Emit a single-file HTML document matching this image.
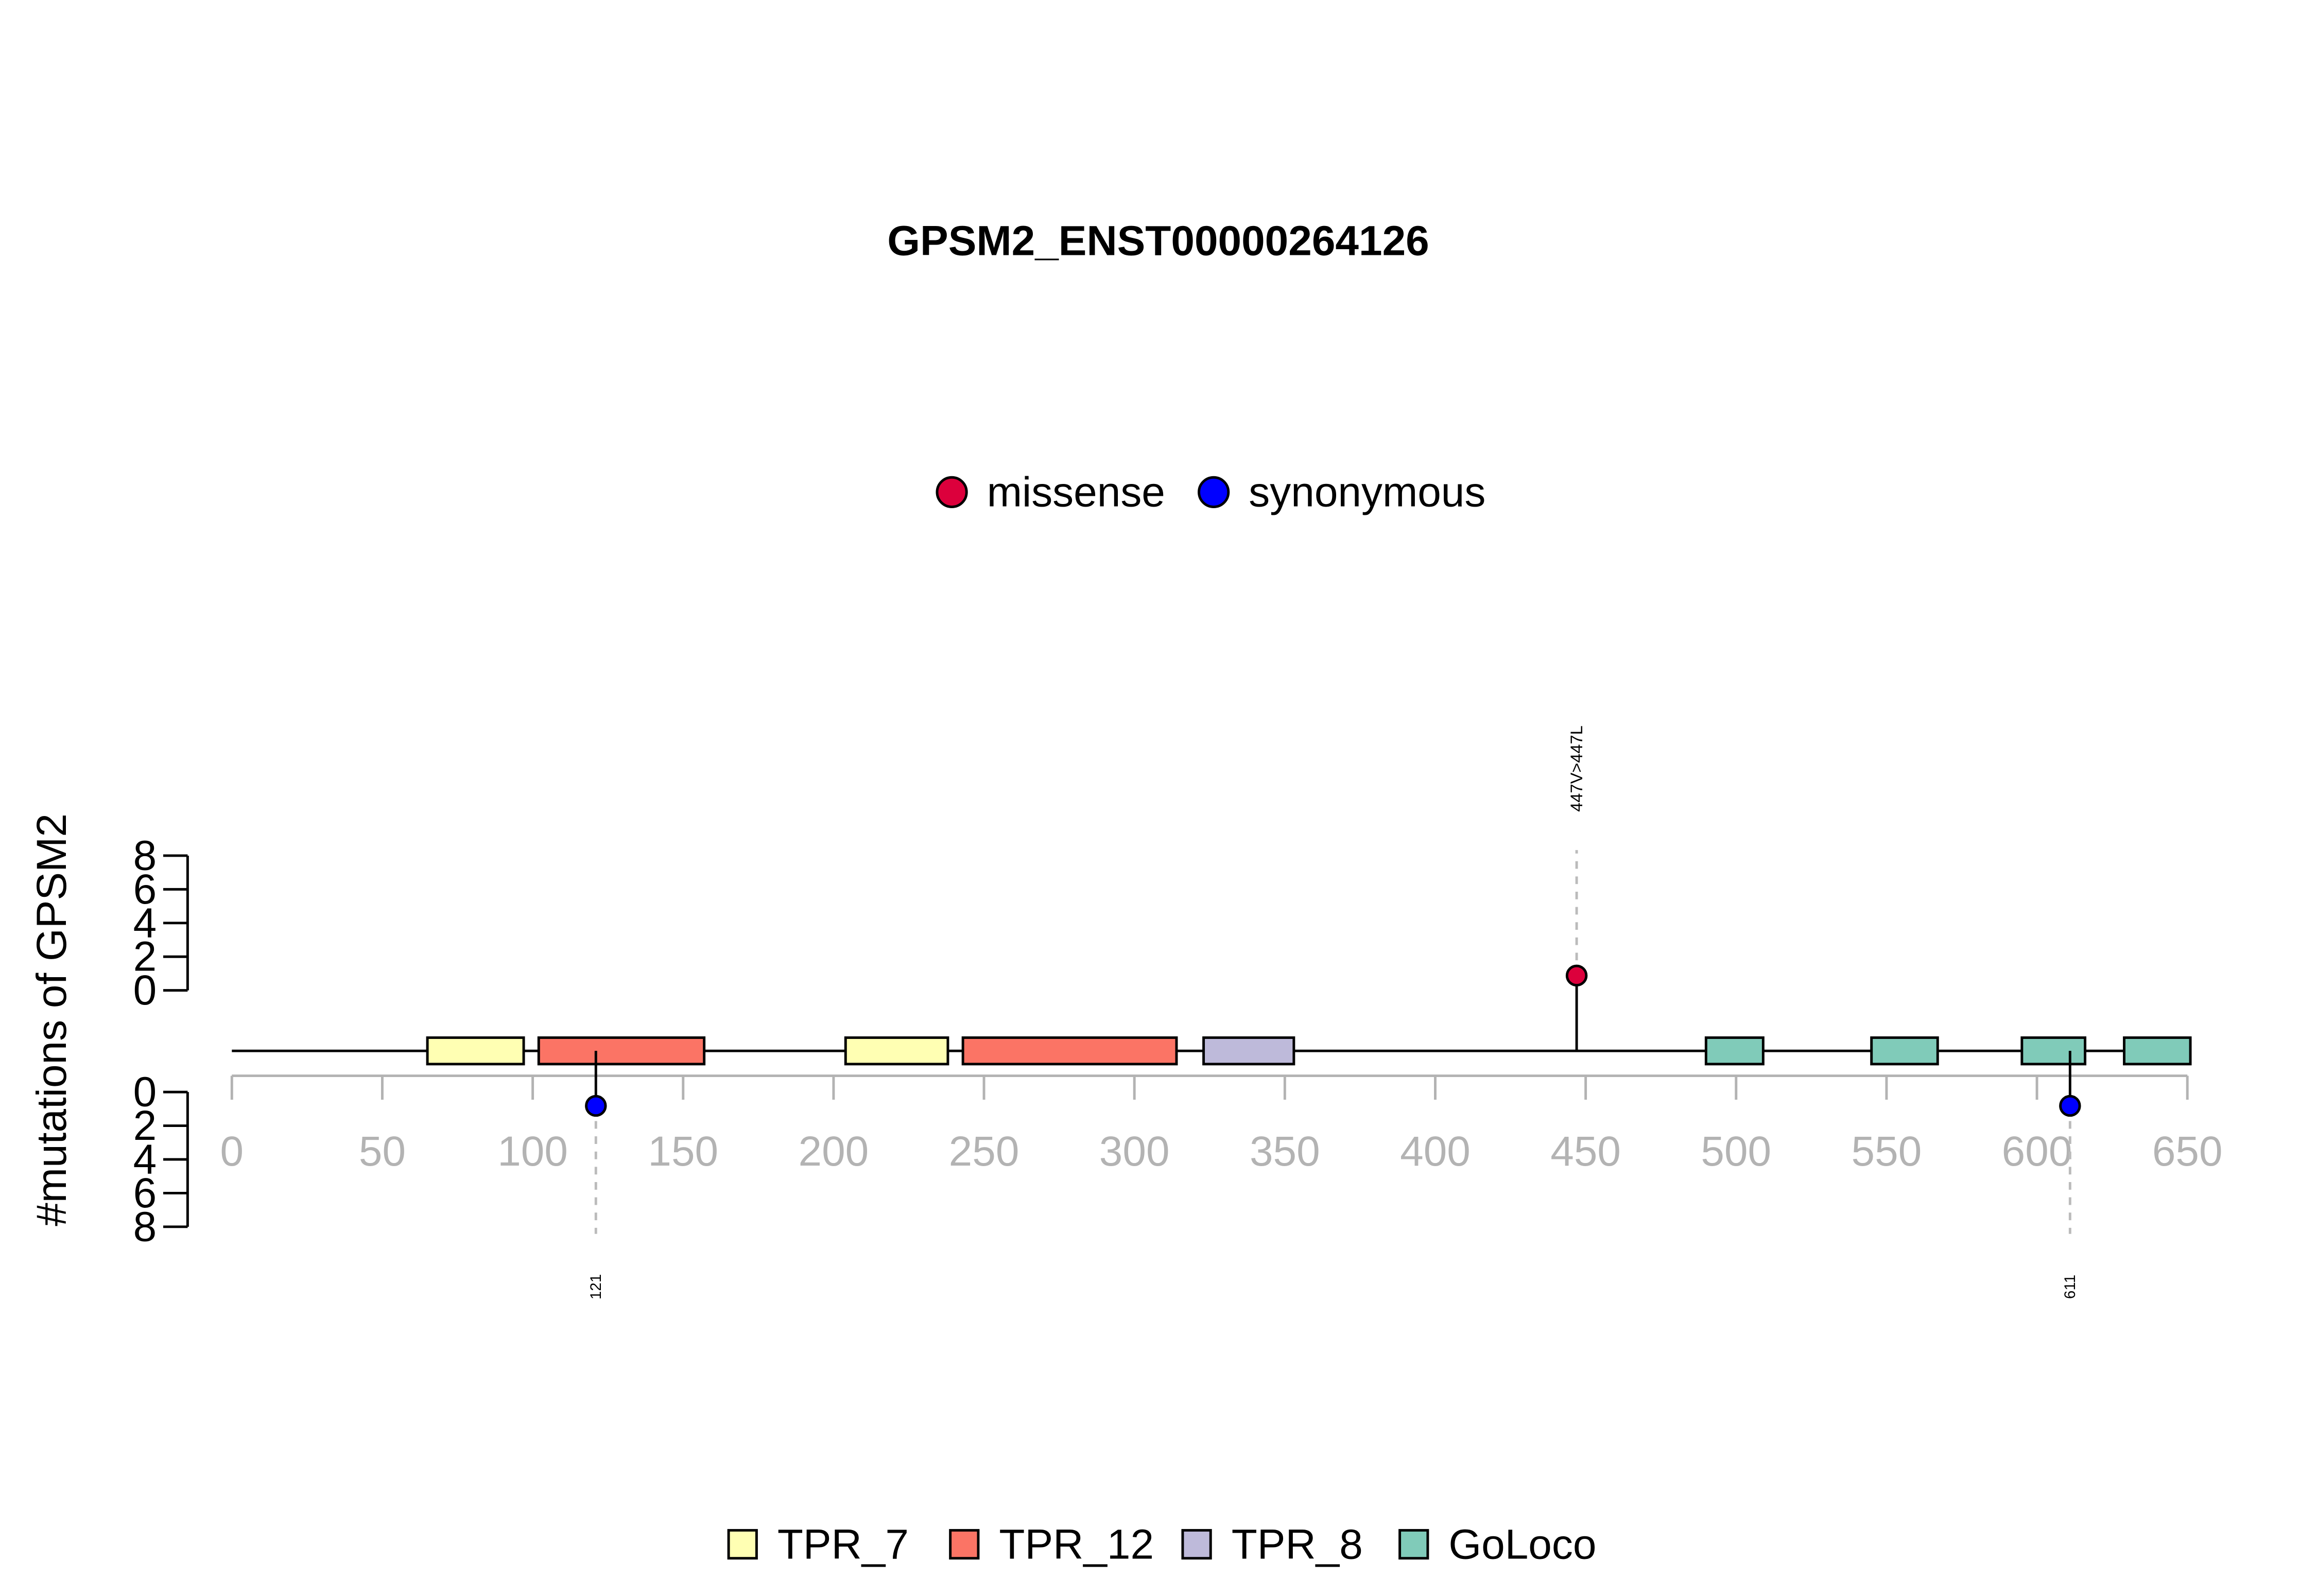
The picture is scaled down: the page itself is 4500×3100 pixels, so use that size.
<!DOCTYPE html>
<html><head><meta charset="utf-8"><style>
html,body{margin:0;padding:0;background:#fff;}
svg{display:block;font-family:"Liberation Sans",Arial,sans-serif;}
</style></head><body>
<svg id="chart" width="4500" height="3100" viewBox="0 0 4500 3100" xmlns="http://www.w3.org/2000/svg">
<rect width="4500" height="3100" fill="#fff"/>
<g transform="scale(0.9875)">
<text x="2278" y="474" text-anchor="middle" dominant-baseline="central" font-size="83" font-weight="bold">GPSM2_ENST00000264126</text>
<g id="legend-top">
  <circle cx="1872" cy="968" r="29" fill="#DC003C" stroke="#000" stroke-width="5"/>
  <text x="1941" y="968" dominant-baseline="central" font-size="83">missense</text>
  <circle cx="2387" cy="968" r="29" fill="#0000FF" stroke="#000" stroke-width="5"/>
  <text x="2456" y="968" dominant-baseline="central" font-size="83">synonymous</text>
</g>
<text transform="translate(102,2006) rotate(-90)" text-anchor="middle" dominant-baseline="central" font-size="83">#mutations of GPSM2</text>
<g id="plot"></g>
<g id="legend-bottom"></g>
</g>
</svg>
<script>
const domainNames = ["TPR_7","TPR_12","TPR_7","TPR_12","TPR_8","GoLoco","GoLoco","GoLoco","GoLoco"];
const domainStarts = [65,102,204,243,323,490,545,595,629];
const domainEnds = [97,157,238,314,353,509,567,616,651];
const mutPositions = [447,121,611];
const mutCounts = [1,1,1];
const mutTypes = ["missense","synonymous","synonymous"];
const mutLabels = ["447V>447L","121","611"];
const xTicks = [0,50,100,150,200,250,300,350,400,450,500,550,600,650];
const yTicks = [0,2,4,6,8];
const legendNames = ["TPR_7","TPR_12","TPR_8","GoLoco"];
const legendColors = ["#FFFFB3","#FB7465","#BEBADA","#80CBB9"];

const NS="http://www.w3.org/2000/svg";
const plot=document.getElementById('plot');
const X0=456, XPER=(4302-456)/650;
const xs=v=>X0+v*XPER;
const BACK=2067;
const yUp=v=>1948-v*(1948-1683)/8;
const yDn=v=>2148+v*(2413-2148)/8;
function mk(tag,attrs,parent){const e=document.createElementNS(NS,tag);for(const k in attrs)e.setAttribute(k,attrs[k]);(parent||plot).appendChild(e);return e;}
const colorOf=n=>legendColors[legendNames.indexOf(n)];

let bb=mk('line',{x1:xs(0),x2:xs(650),y1:BACK,y2:BACK,stroke:'#000','stroke-width':5});



domainNames.forEach((n,i)=>{
  const r=mk('rect',{x:xs(domainStarts[i]),y:2041,width:xs(domainEnds[i])-xs(domainStarts[i]),height:52,fill:colorOf(n),stroke:'#000','stroke-width':5});
  
  
});

let ax=mk('line',{x1:xs(0),x2:xs(650),y1:2116,y2:2116,stroke:'#b3b3b3','stroke-width':5});


xTicks.forEach(t=>{
  const l=mk('line',{x1:xs(t),x2:xs(t),y1:2116,y2:2163,stroke:'#b3b3b3','stroke-width':5});
  
  
  const tx=mk('text',{x:xs(t),y:2265,'text-anchor':'middle','dominant-baseline':'central','font-size':83,fill:'#b3b3b3'});
  tx.textContent=t;
  
  
});

[[yUp,'upper'],[yDn,'lower']].forEach(([f,nm])=>{
  const l=mk('line',{x1:369,x2:369,y1:f(0),y2:f(8),stroke:'#000','stroke-width':5});
  
  
  yTicks.forEach(t=>{
    const tk=mk('line',{x1:321,x2:369,y1:f(t),y2:f(t),stroke:'#000','stroke-width':5});
    
    
    const tx=mk('text',{x:285,y:f(t),'text-anchor':'middle','dominant-baseline':'central','font-size':83});
    tx.textContent=t;
    
    
  });
});

mutPositions.forEach((p,i)=>{
  const up=mutTypes[i]==='missense';
  const x=xs(p);
  const cy=up?yUp(mutCounts[i])+4:yDn(mutCounts[i])-6;
  const stem=mk('line',{x1:x,x2:x,y1:BACK,y2:cy,stroke:'#000','stroke-width':5});
  
  
  const dEnd=up?1672:2427;
  const d=mk('line',{x1:x,x2:x,y1:cy,y2:dEnd,stroke:'#bbb','stroke-width':5,'stroke-dasharray':'15 15'});
  
  
  const c=mk('circle',{cx:x,cy:cy,r:19,fill:up?'#DC003C':'#0000FF',stroke:'#000','stroke-width':5});
  
  
  const ly=up?1512:2531;
  const t=mk('text',{transform:`translate(${x},${ly}) rotate(-90)`,'text-anchor':'middle','dominant-baseline':'central','font-size':up?33:30});
  t.textContent=mutLabels[i];
  
  
});

const lg=document.getElementById('legend-bottom');
const lx=[1433,1869,2326,2753];
legendNames.forEach((n,i)=>{
  const r=mk('rect',{x:lx[i],y:3010,width:55,height:55,fill:legendColors[i],stroke:'#000','stroke-width':5},lg);
  
  
  const t=mk('text',{x:lx[i]+96,y:3038,'dominant-baseline':'central','font-size':83},lg);
  t.textContent=n;
  
  
});
</script>
</body></html>
